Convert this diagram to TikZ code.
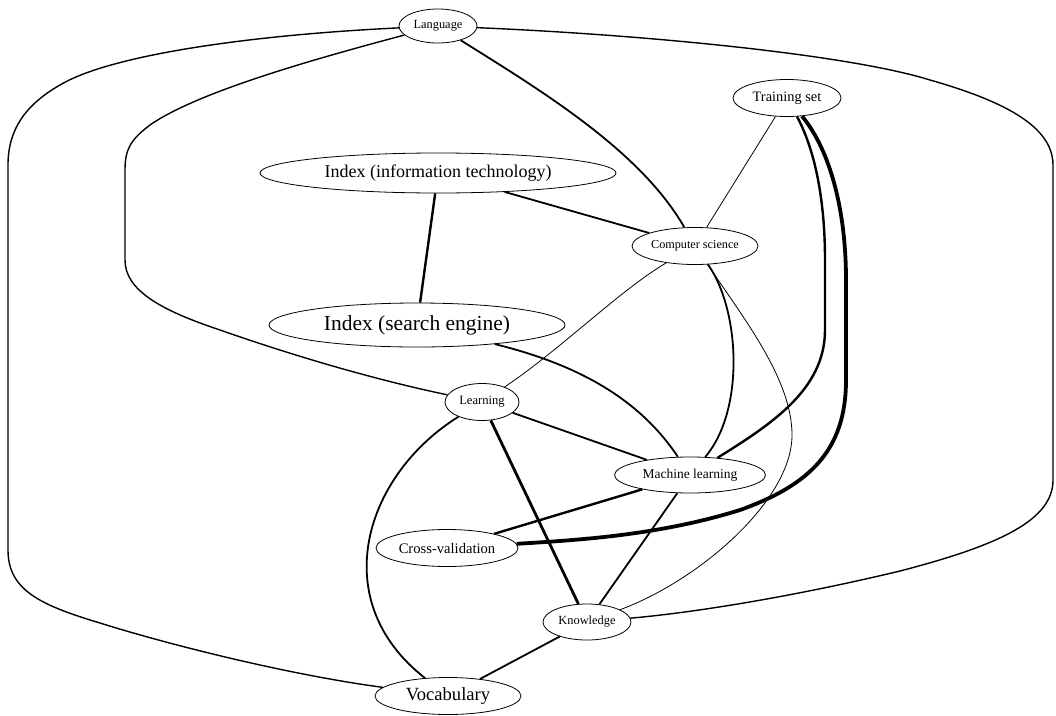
\documentclass[tikz,border=0pt]{standalone}
\usepackage{fontspec}
\setmainfont{Liberation Serif}
\usetikzlibrary{shapes.geometric}
\newcommand\myfs[1]{\fontsize{#1}{#1}\selectfont}
\tikzset{
  gnode/.style={ellipse, draw, line width=0.8pt, inner sep=0pt},
  lnk/.style={line width=1.8pt, line join=round},
  lnklight/.style={line width=1.4pt, line join=round},
  lnkthin/.style={line width=0.8pt},
  lnkmed/.style={line width=2.4pt, line join=round},
  lnkheavy/.style={line width=2.8pt, line join=round},
  lnkmax/.style={line width=3.8pt, line join=round},
}
\begin{document}
\begin{tikzpicture}[x=1pt, y=-1pt]
\useasboundingbox (0,0) rectangle (1056,715);
% nodes
\node[gnode, minimum width=78pt, minimum height=34pt, font=\myfs{12.4}] (lang) at (438,26) {Language};
\node[gnode, minimum width=108pt, minimum height=37pt, font=\myfs{14.4}] (ts) at (787,98) {Training set};
\node[gnode, minimum width=126pt, minimum height=37pt, font=\myfs{12.2}] (cs) at (695,246) {Computer science};
\node[gnode, minimum width=356pt, minimum height=40pt, font=\myfs{18}] (iit) at (438,173) {Index (information technology)};
\node[gnode, minimum width=296pt, minimum height=44pt, font=\myfs{21.5}] (ise) at (417,325) {Index (search engine)};
\node[gnode, minimum width=74pt, minimum height=37pt, font=\myfs{12.6}] (learn) at (482,402) {Learning};
\node[gnode, minimum width=151pt, minimum height=36pt, font=\myfs{13.5}] (ml) at (690,475) {Machine learning};
\node[gnode, minimum width=142pt, minimum height=37pt, font=\myfs{14.6}] (cv) at (447,548) {Cross-validation};
\node[gnode, minimum width=88pt, minimum height=36pt, font=\myfs{12.4}] (know) at (587,622) {Knowledge};
\node[gnode, minimum width=146pt, minimum height=37pt, font=\myfs{18.6}] (voc) at (448,696) {Vocabulary};
% edges
\draw[lnklight] (lang) .. controls (250,35) and (110,55) .. (60,85)
  .. controls (25,105) and (8,130) .. (8,165) -- (8,550)
  .. controls (8,590) and (40,605) .. (100,623)
  .. controls (170,645) and (290,675) .. (voc);
\draw[lnklight] (lang) .. controls (330,55) and (200,90) .. (150,125)
  .. controls (130,140) and (125,150) .. (125,170) -- (125,260)
  .. controls (125,290) and (160,310) .. (220,330)
  .. controls (320,365) and (400,385) .. (learn);
\draw[lnklight] (lang) .. controls (650,35) and (850,55) .. (930,80)
  .. controls (1000,100) and (1053,125) .. (1053,165) -- (1053,480)
  .. controls (1053,520) and (1000,545) .. (900,571)
  .. controls (800,595) and (700,612) .. (know);
\draw[lnk] (lang) .. controls (540,90) and (640,150) .. (cs);
\draw[lnkmed] (iit) -- (ise);
\draw[lnk] (iit) -- (cs);
\draw[lnk] (ise) .. controls (580,365) and (640,400) .. (ml);
\draw[lnkthin] (cs) -- (ts);
\draw[lnkthin] (cs) .. controls (620,290) and (560,350) .. (learn);
\draw[lnk] (cs) .. controls (740,310) and (745,410) .. (ml);
\draw[lnkthin] (cs) .. controls (745,320) and (792,380) .. (792,435)
  .. controls (792,500) and (700,580) .. (know);
\draw[lnkmed] (ts) .. controls (815,150) and (825,200) .. (825,260) -- (825,330)
  .. controls (825,390) and (770,425) .. (ml);
\draw[lnkmax] (ts) .. controls (830,150) and (846,210) .. (846,280) -- (846,380)
  .. controls (846,450) and (810,485) .. (740,510)
  .. controls (660,535) and (580,540) .. (cv);
\draw[lnk] (learn) -- (ml);
\draw[lnkheavy] (learn) -- (know);
\draw[lnk] (learn) .. controls (365,475) and (325,600) .. (voc);
\draw[lnkmed] (ml) -- (cv);
\draw[lnk] (ml) -- (know);
\draw[lnk] (know) -- (voc);
\end{tikzpicture}
\end{document}
